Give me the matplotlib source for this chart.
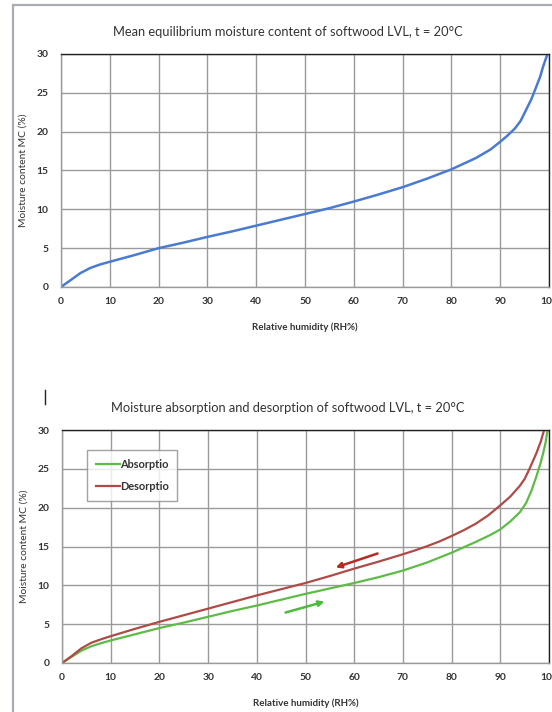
import matplotlib
matplotlib.use("Agg")
import matplotlib.pyplot as plt
from matplotlib.lines import Line2D
from matplotlib.patches import Rectangle

plt.rcParams['font.family'] = ['Lato', 'DejaVu Sans']

# Relative humidity (%) and mean equilibrium moisture content (%)
rh_mean = [0, 2, 4, 6, 8, 10, 15, 20, 25, 30, 35, 40, 45, 50, 55, 60, 65, 70,
           75, 80, 85, 88, 90, 91.5, 93, 94.2, 95.3, 96.4, 97.4, 98.2, 98.8,
           99.3, 99.7]
mc_mean = [0, 0.9, 1.8, 2.45, 2.9, 3.25, 4.1, 5.0, 5.7, 6.45, 7.15, 7.9, 8.65,
           9.4, 10.15, 11.0, 11.9, 12.85, 13.95, 15.15, 16.6, 17.7, 18.7, 19.5,
           20.4, 21.4, 22.8, 24.2, 25.8, 27.1, 28.4, 29.3, 30]

# Absorption branch
rh_abs = [0, 2, 4, 6, 8, 10, 15, 20, 25, 30, 35, 40, 45, 50, 55, 60, 65, 70,
          75, 80, 85, 88, 90, 92, 94, 95.3, 96.4, 97.4, 98.2, 98.8, 99.3, 99.7]
mc_abs = [0, 0.8, 1.6, 2.15, 2.55, 2.9, 3.7, 4.5, 5.2, 5.95, 6.7, 7.4, 8.15,
          8.9, 9.6, 10.3, 11.05, 11.9, 12.95, 14.2, 15.6, 16.5, 17.2, 18.2,
          19.4, 20.6, 22.2, 24.0, 25.6, 27.0, 28.4, 30]

# Desorption branch
rh_des = [0, 2, 4, 6, 8, 10, 15, 20, 25, 30, 35, 40, 45, 50, 55, 60, 65, 70,
          72.5, 75, 77.5, 80, 82.5, 85, 87.5, 90, 92, 94, 95, 96, 97.4, 98.3, 99]
mc_des = [0, 0.9, 1.9, 2.6, 3.05, 3.45, 4.4, 5.3, 6.15, 7.0, 7.85, 8.7, 9.5,
          10.3, 11.2, 12.15, 13.05, 14.0, 14.5, 15.05, 15.65, 16.35, 17.1,
          17.95, 19.0, 20.3, 21.4, 22.8, 23.7, 25.0, 27.0, 28.5, 30]

x_ticks = [0, 10, 20, 30, 40, 50, 60, 70, 80, 90, 100]
x_tick_labels = ['0', '10', '20', '30', '40', '50', '60', '70', '80', '90', '100']
y_ticks = [0, 5, 10, 15, 20, 25, 30]

BLUE = '#4A7BD0'
GREEN = '#5DBB46'
RED = '#AE4A47'
TEXT = '#333333'
GRID = '#9A9A9A'

fig = plt.figure(figsize=(5.52, 7.12), dpi=100)

# outer frame
fig.add_artist(Rectangle((13 / 552, -0.02), 0.99, 1 - 5 / 712 + 0.02,
                         transform=fig.transFigure, fill=False,
                         edgecolor='#A8ADB3', linewidth=1.6))


def style_axes(ax, title, title_y):
    ax.set_xlim(0, 100)
    ax.set_ylim(0, 30)
    ax.set_xticks(x_ticks)
    ax.set_xticklabels(x_tick_labels)
    ax.set_yticks(y_ticks)
    ax.grid(True, color=GRID, linewidth=1.0)
    ax.set_axisbelow(True)
    ax.tick_params(length=0, pad=7, labelsize=7.4, colors=TEXT)
    for lab in ax.get_xticklabels() + ax.get_yticklabels():
        lab.set_fontweight('bold')
    ax.tick_params(axis='y', pad=9)
    for side in ('left', 'bottom'):
        ax.spines[side].set_color(GRID)
        ax.spines[side].set_linewidth(1.0)
    for side in ('top', 'right'):
        ax.spines[side].set_color('#222222')
        ax.spines[side].set_linewidth(1.0)
    ax.set_xlabel('Relative humidity (RH%)', fontsize=7.0, fontweight='bold',
                  color=TEXT, labelpad=12)
    ax.set_ylabel('Moisture content MC (%)', fontsize=7.4, color=TEXT)
    ax.yaxis.set_label_coords(-33 / 488, 0.5)
    fig.text(0.522, title_y, title, ha='center', va='center', fontsize=9.3,
             color=TEXT)


ax1 = fig.add_axes([61 / 552, 1 - 287 / 712, 488 / 552, 233 / 712])
style_axes(ax1, 'Mean equilibrium moisture content of softwood LVL, t = 20°C',
           1 - 32 / 712)
ax1.plot(rh_mean, mc_mean, color=BLUE, linewidth=1.8, solid_capstyle='round',
         solid_joinstyle='round')

ax2 = fig.add_axes([62 / 552, 1 - 663 / 712, 487 / 552, 233 / 712])
style_axes(ax2, 'Moisture absorption and desorption of softwood LVL, t = 20°C',
           1 - 408 / 712)
ax2.plot(rh_abs, mc_abs, color=GREEN, linewidth=1.6, label='Absorptio',
         solid_joinstyle='round')
ax2.plot(rh_des, mc_des, color=RED, linewidth=1.6, label='Desorptio',
         solid_joinstyle='round')

leg = ax2.legend(loc='upper left', bbox_to_anchor=(0.051, 0.914),
                 frameon=True, fancybox=False, edgecolor='#8C8C8C',
                 fontsize=7.9, handlelength=2.2, handletextpad=0.0,
                 labelspacing=1.05, borderpad=0.8, borderaxespad=0)
leg.get_frame().set_linewidth(1.0)
for t in leg.get_texts():
    t.set_fontweight('bold')
    t.set_color(TEXT)

# direction arrows along the sorption branches
ax2.annotate('', xy=(56.2, 12.3), xytext=(64.8, 14.1),
             arrowprops=dict(arrowstyle='-|>', color='#B52A25', lw=1.8,
                             mutation_scale=8, shrinkA=0, shrinkB=0))
ax2.annotate('', xy=(53.9, 7.9), xytext=(45.9, 6.5),
             arrowprops=dict(arrowstyle='-|>', color='#4DBB3E', lw=1.8,
                             mutation_scale=8, shrinkA=0, shrinkB=0))

# text cursor mark above the second chart
fig.add_artist(Line2D([45 / 552, 45 / 552], [1 - 390 / 712, 1 - 404 / 712],
                      transform=fig.transFigure, color='#222222',
                      linewidth=1.0))

fig.savefig('out.png', dpi=100)
